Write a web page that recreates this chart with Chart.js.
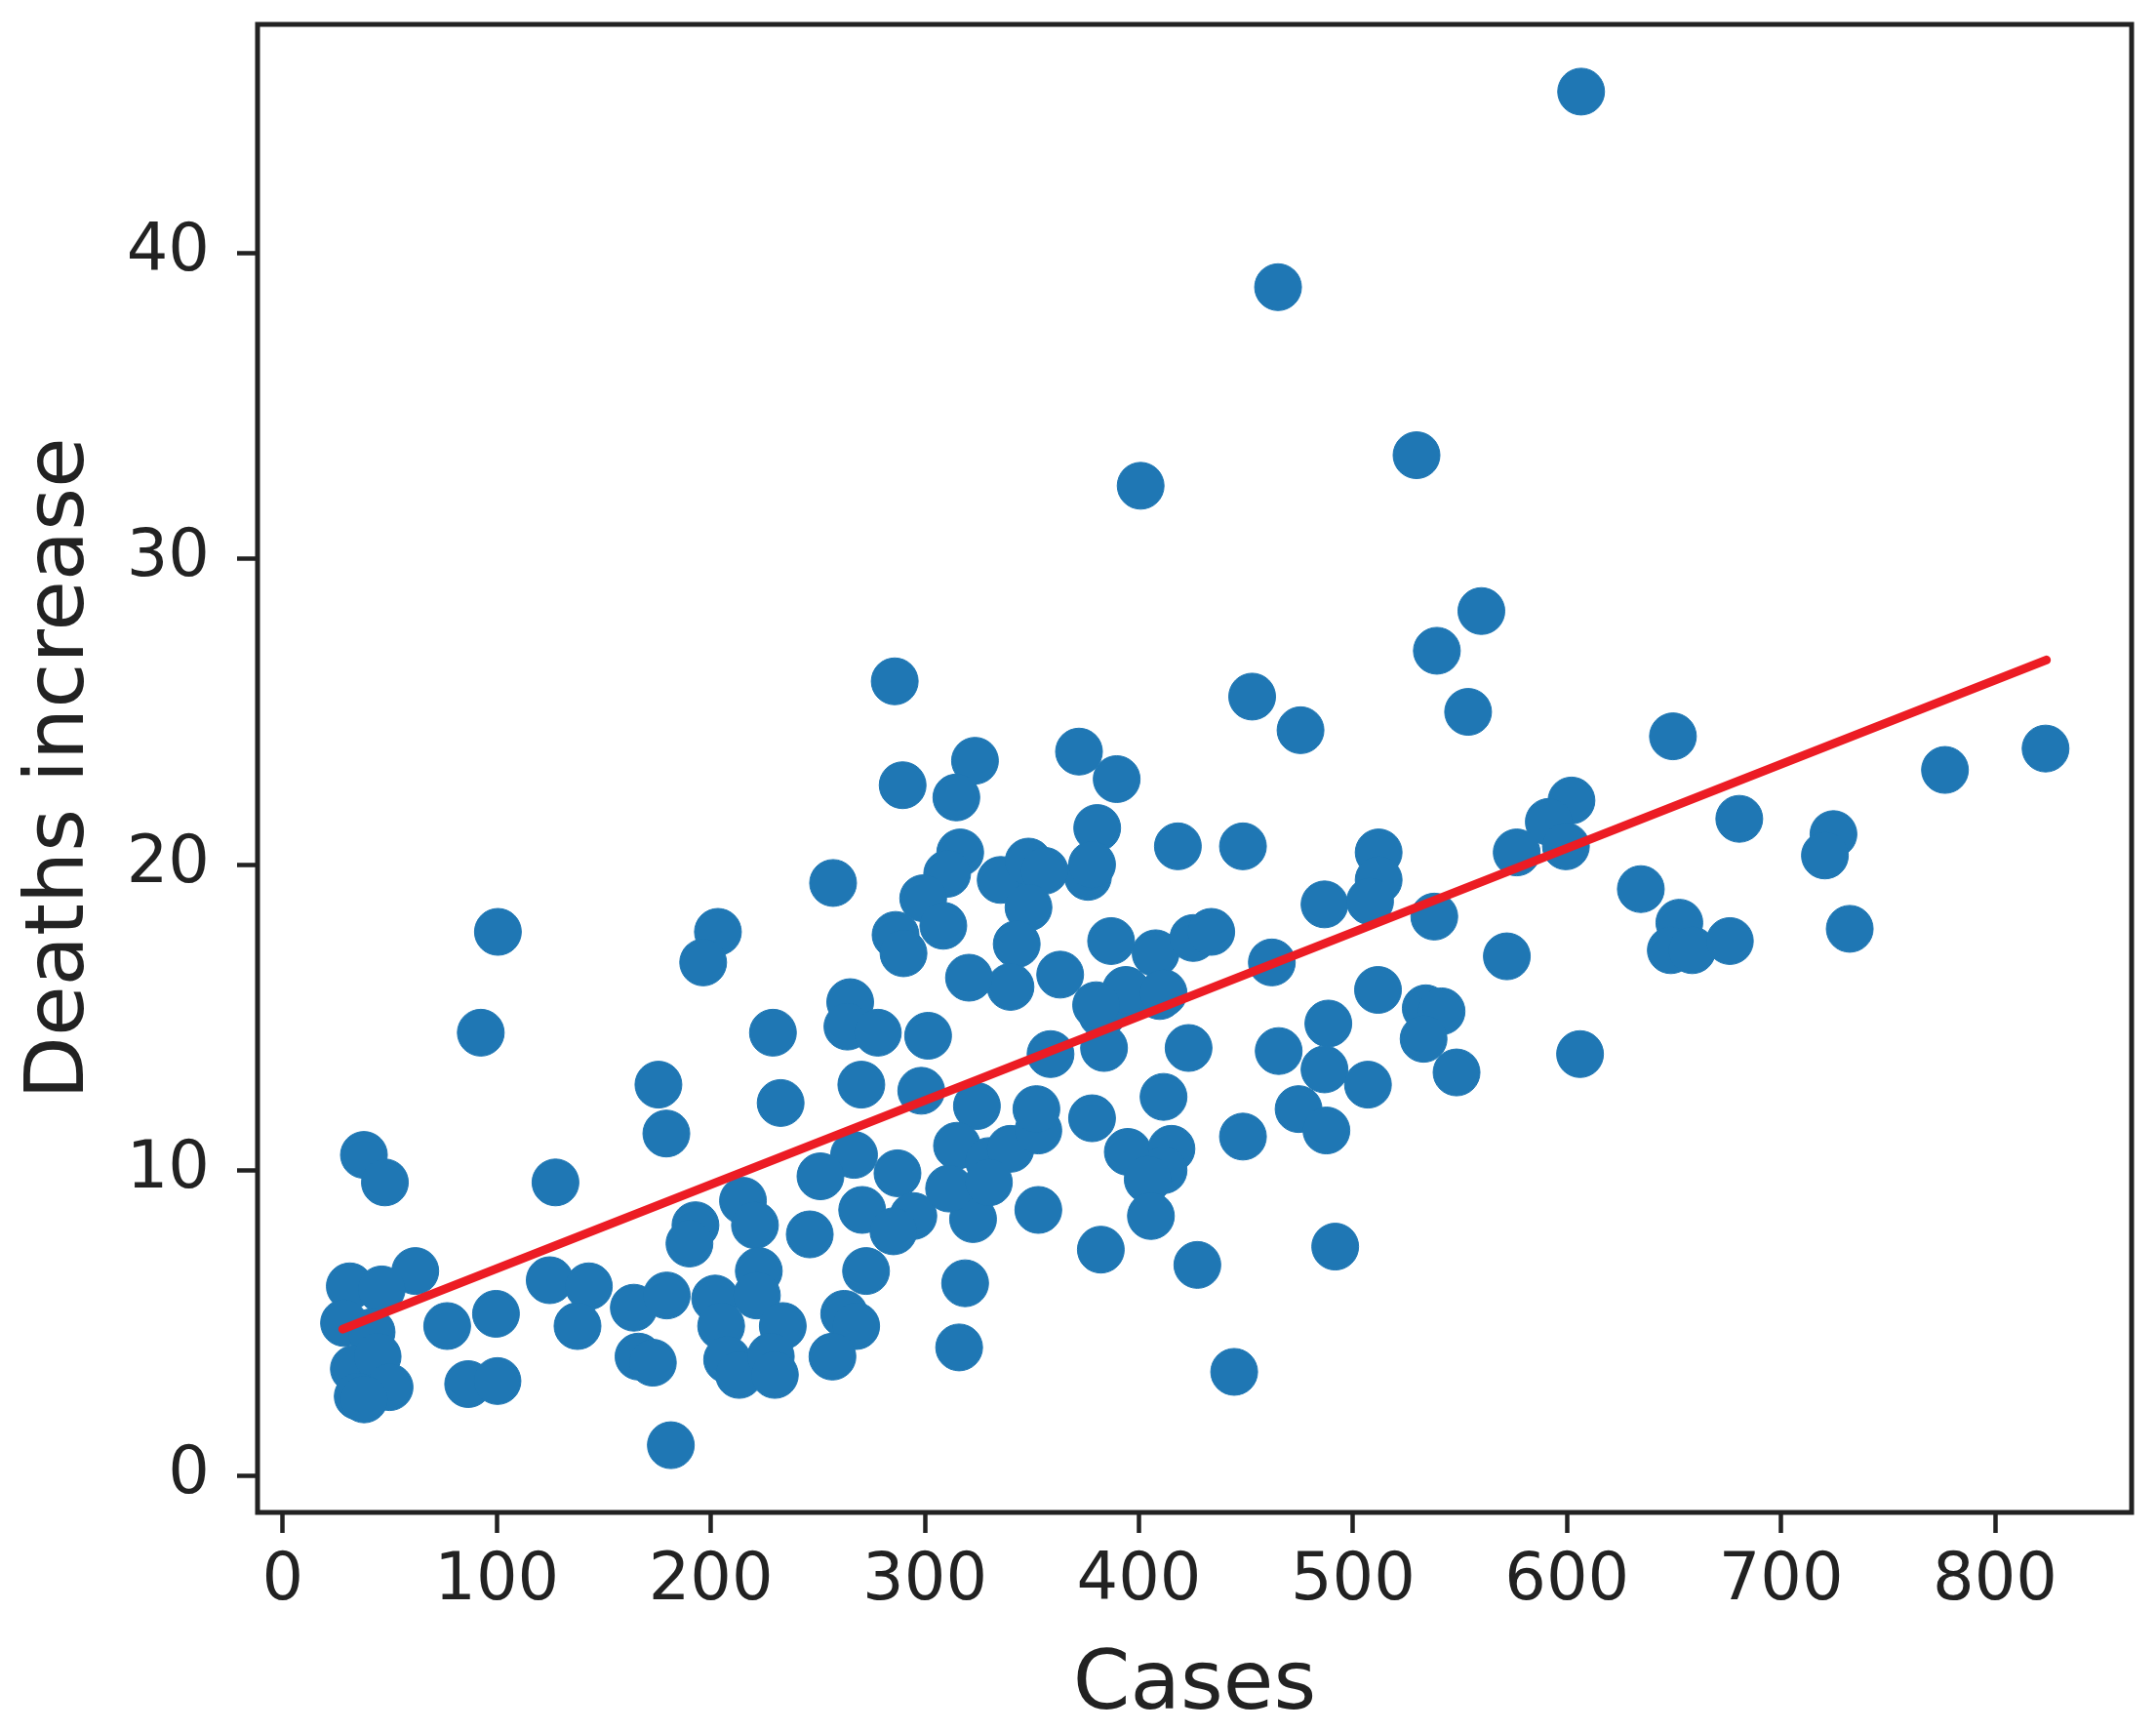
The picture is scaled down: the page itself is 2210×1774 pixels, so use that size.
<!DOCTYPE html>
<html lang="en">
<head>
  <meta charset="UTF-8" />
  <title>Deaths increase vs Cases</title>
  <script src="https://cdn.jsdelivr.net/npm/chart.js"></script>
  <style>
    body {
      margin: 0;
      background: #fff;
    }
    canvas {
      display: block;
    }
  </style>
</head>
<body>
  <canvas id="scatterChart" width="2210" height="1774"></canvas>

  <script>
    // values
    const cases = [
      92.5, 37.9, 47.7, 61.9, 31.3, 46.2, 28.6, 41.5, 33.2, 44.3, 49.9, 35, 38,
      76.8, 99.6, 86.6, 100.3, 127.4, 124.7, 143, 137.7, 175.5, 179.2, 164, 179.4,
      166.2, 172.9, 181.3, 229, 232.6, 265.1, 263.8, 270.3, 266.9, 251.2, 270.7,
      246.2, 272.5, 262.3, 267.9, 256.8, 215, 192.8, 190, 220.6, 222.4, 202, 221.5,
      204.8, 233.6, 207.6, 213.2, 228, 229.9,
      278, 301.5, 298.3, 324.3, 315, 329.9, 340, 353, 352.1, 358.7, 383.7, 382.8,
      394.8, 409.7, 423.2, 411.5, 378.1, 394.8, 415.2, 411.5, 404.1, 448.6, 465.3,
      488.5, 486.7, 507, 474.6, 487.6, 511.7, 534, 541.4, 533, 548.4, 353, 318.8,
      316, 382.2, 405.6, 427.3, 491.7, 444.5, 287.2, 294.6, 285.3, 322.5, 311.3, 329.9,
      285.9, 289.6, 323.4, 314.7, 372, 389.6, 452.9, 475.5, 539.2, 560, 553.8, 380.5,
      376.2, 378.1, 418.2, 448.6, 316.5, 310.4, 299.2, 308.6, 286.3, 290, 335.4, 348.4,
      355.9, 348.4, 342.9, 340, 320.6, 363.2, 387, 407.8, 425.4, 433.8, 462.1, 486.7,
      512, 512, 508, 538, 393.9, 411.5, 380,
      649.5, 776.6, 823.6, 602.1, 591.5, 576.5, 599.5, 680.5, 724.5, 720.5, 634.5,
      652.5, 648.5, 658.5, 676.1, 732.1, 571.9, 606.1,
      606.6, 465, 529.7, 400.8,
      257.1, 100.5, 203.3, 196.4
    ];
    const deathsIncrease = [
      14.5, 10.5, 9.6, 6.7, 6.2, 6.1, 5.0, 4.7, 3.5, 3.9, 2.9, 2.6, 2.5,
      4.9, 5.3, 3.0, 3.1, 9.6, 6.4, 6.2, 4.9, 12.8, 11.2, 5.5, 5.9,
      3.9, 3.7, 1.0, 14.5, 12.2, 15.5, 14.7, 12.8, 10.5, 9.8, 8.7,
      7.9, 6.7, 5.3, 4.9, 3.9, 9.0, 8.2, 7.6, 8.2, 6.7, 5.8, 5.9,
      4.9, 4.9, 3.8, 3.3, 3.9, 3.3,
      14.5, 14.4, 12.6, 12.1, 10.8, 10.3, 10.7, 11.3, 12.0, 13.8, 14.0, 15.1,
      15.6, 15.7, 14.0, 12.4, 11.7, 10.6, 10.7, 10.0, 9.7, 11.1, 13.9,
      14.8, 13.3, 12.8, 12.0, 11.3, 15.9, 15.3, 15.2, 14.3, 13.2, 8.7, 6.3,
      4.2, 7.4, 8.5, 6.9, 7.5, 3.4, 9.9, 8.5, 8.0, 8.4, 9.4, 9.6,
      26.0, 22.6, 23.4, 22.2, 23.7, 22.8, 25.5, 24.4, 27.0, 28.3, 25.0, 21.2,
      19.6, 20.0, 20.6, 20.6, 20.4, 19.7, 18.9, 18.0, 17.7, 17.1, 19.5, 20.1,
      19.8, 18.6, 17.4, 16.0, 16.3, 16.4, 17.5, 17.1, 17.6, 17.8, 16.8, 18.7,
      20.4, 19.5, 18.8, 18.3, 15.9, 15.8, 15.4,
      24.2, 23.1, 23.8, 22.1, 21.4, 20.4, 20.6, 21.5, 21.0, 20.3, 19.2,
      18.1, 17.2, 17.2, 17.5, 17.9, 17.0, 13.8,
      45.3, 38.9, 33.4, 32.4,
      19.4, 17.8, 17.8, 16.8
    ];
    // fitted line end points
    const fitCases = [28, 824];
    const fitDeaths = [4.8, 26.7];

    const xTicks = [0, 100, 200, 300, 400, 500, 600, 700, 800];
    const yTicks = [0, 10, 20, 30, 40];

    const ink = '#222222';
    const fontFamily = '"DejaVu Sans", sans-serif';

    // box around the plot area, like the matplotlib spines
    const frame = {
      id: 'frame',
      afterDatasetsDraw(chart) {
        const a = chart.chartArea;
        const ctx = chart.ctx;
        ctx.save();
        ctx.strokeStyle = ink;
        ctx.lineWidth = 5;
        ctx.strokeRect(a.left, a.top, a.right - a.left, a.bottom - a.top);
        ctx.restore();
      }
    };

    const ctx = document.getElementById('scatterChart').getContext('2d');
    new Chart(ctx, {
      type: 'scatter',
      data: {
        datasets: [
          {
            type: 'line',
            label: 'fit',
            data: fitCases.map((x, i) => ({ x: x, y: fitDeaths[i] })),
            borderColor: '#ec1c24',
            borderWidth: 9,
            borderCapStyle: 'round',
            pointRadius: 0,
            fill: false,
            order: 0
          },
          {
            label: 'Deaths increase',
            data: cases.map((x, i) => ({ x: x, y: deathsIncrease[i] })),
            backgroundColor: '#1f77b4',
            borderColor: '#1f77b4',
            borderWidth: 1,
            pointRadius: 24,
            order: 1
          }
        ]
      },
      options: {
        responsive: false,
        animation: false,
        devicePixelRatio: 1,
        layout: {
          padding: { left: 0, top: 21, right: 23, bottom: 0 }
        },
        plugins: {
          legend: { display: false },
          tooltip: { enabled: false }
        },
        scales: {
          x: {
            type: 'linear',
            min: -11.8,
            max: 863.8,
            afterBuildTicks: scale => {
              scale.ticks = xTicks.map(v => ({ value: v }));
            },
            afterFit: scale => {
              scale.height = 224;
              scale.paddingLeft = 0;
              scale.paddingRight = 0;
            },
            border: { display: false },
            grid: {
              drawOnChartArea: false,
              drawTicks: true,
              tickLength: 21,
              tickWidth: 4.5,
              tickColor: ink
            },
            ticks: {
              color: ink,
              padding: 10,
              maxRotation: 0,
              font: { family: fontFamily, size: 67 }
            },
            title: {
              display: true,
              text: 'Cases',
              color: ink,
              padding: { top: 0, bottom: -6 },
              font: { family: fontFamily, size: 84 }
            }
          },
          y: {
            type: 'linear',
            min: -1.2,
            max: 47.5,
            afterBuildTicks: scale => {
              scale.ticks = yTicks.map(v => ({ value: v }));
            },
            afterFit: scale => {
              scale.width = 264;
              scale.paddingTop = 0;
              scale.paddingBottom = 0;
            },
            border: { display: false },
            grid: {
              drawOnChartArea: false,
              drawTicks: true,
              tickLength: 21,
              tickWidth: 4.5,
              tickColor: ink
            },
            ticks: {
              color: ink,
              padding: 28,
              font: { family: fontFamily, size: 67 }
            },
            title: {
              display: true,
              text: 'Deaths increase',
              color: ink,
              padding: { top: 13, bottom: 0 },
              font: { family: fontFamily, size: 84 }
            }
          }
        }
      },
      plugins: [frame]
    });
  </script>
</body>
</html>
